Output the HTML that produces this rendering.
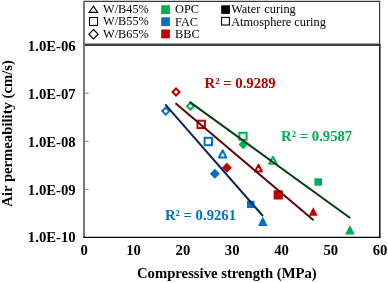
<!DOCTYPE html>
<html><head><meta charset="utf-8">
<style>
html,body{margin:0;padding:0;background:#fff;width:388px;height:283px;overflow:hidden}
svg{display:block;will-change:transform}
text{font-family:"Liberation Serif",serif}
.b{font-weight:bold;font-size:14.7px}
.l{font-size:12.3px}
</style></head><body>
<svg width="388" height="283" viewBox="0 0 388 283">
<!-- legend box -->
<polyline points="84,1.4 379.6,1.4 379.6,44" fill="none" stroke="#3a3a3a" stroke-width="1.2"/>
<!-- legend markers col1 -->
<polygon points="93.4,6.1 97.7,12.35 89.1,12.35" fill="none" stroke="#000" stroke-width="1.1"/>
<rect x="89.5" y="17.5" width="8" height="8" fill="none" stroke="#000" stroke-width="1.1"/>
<polygon points="93.5,29.5 98.1,34.15 93.5,38.8 88.9,34.15" fill="none" stroke="#000" stroke-width="1.2"/>
<text x="103.1" y="13.2" class="l">W/B45%</text>
<text x="103.1" y="25.4" class="l">W/B55%</text>
<text x="103.1" y="37.9" class="l">W/B65%</text>
<!-- col2 -->
<rect x="161.2" y="5.2" width="8.7" height="8.8" fill="#00b050"/>
<rect x="161.2" y="17.3" width="8.7" height="8.8" fill="#0070c0"/>
<rect x="161.2" y="29.5" width="8.7" height="8.8" fill="#c00000"/>
<text x="175" y="13.3" class="l">OPC</text>
<text x="175" y="25.5" class="l">FAC</text>
<text x="175" y="37.9" class="l">BBC</text>
<!-- col3 -->
<rect x="221.2" y="5.3" width="8.7" height="8.6" fill="#000"/>
<rect x="221.6" y="17.4" width="7.8" height="7.6" fill="none" stroke="#000" stroke-width="1.1"/>
<text x="231.2" y="13.4" class="l" word-spacing="1">Water curing</text>
<text x="231.2" y="25.5" class="l">Atmosphere curing</text>

<!-- plot frame -->
<line x1="84" y1="44.8" x2="380" y2="44.8" stroke="#404040" stroke-width="2.6"/>
<line x1="84" y1="0.8" x2="84" y2="237.8" stroke="#777" stroke-width="2"/>
<line x1="83.2" y1="237.35" x2="380.5" y2="237.35" stroke="#000" stroke-width="1.4"/>
<line x1="379.8" y1="44" x2="379.8" y2="237.8" stroke="#111" stroke-width="1.5"/>
<!-- y ticks -->
<g stroke="#999" stroke-width="1.1">
<line x1="85" y1="93.3" x2="88.6" y2="93.3"/>
<line x1="85" y1="141.4" x2="88.6" y2="141.4"/>
<line x1="85" y1="189.5" x2="88.6" y2="189.5"/>
</g>
<!-- y labels -->
<g class="b" text-anchor="end">
<text x="75.6" y="50.6" class="b">1.0E-06</text>
<text x="75.6" y="98.6" class="b">1.0E-07</text>
<text x="75.6" y="146.6" class="b">1.0E-08</text>
<text x="75.6" y="194.6" class="b">1.0E-09</text>
<text x="75.6" y="242.4" class="b">1.0E-10</text>
</g>
<!-- x labels -->
<g text-anchor="middle">
<text x="84.2" y="255.2" class="b">0</text>
<text x="133.6" y="255.2" class="b">10</text>
<text x="182.9" y="255.2" class="b">20</text>
<text x="232.2" y="255.2" class="b">30</text>
<text x="281.5" y="255.2" class="b">40</text>
<text x="330.8" y="255.2" class="b">50</text>
<text x="380.1" y="255.2" class="b">60</text>
</g>
<text x="137" y="278.2" class="b">Compressive strength (MPa)</text>
<text transform="translate(12.4,206.7) rotate(-90)" class="b">Air permeability (cm/s)</text>

<!-- open markers (atmosphere) -->
<g fill="none" stroke-width="2">
<polygon points="165.8,107.60 169.30,111.1 165.8,114.60 162.30,111.1" stroke="#0070c0"/>
<polygon points="176.0,88.50 179.50,92.0 176.0,95.50 172.50,92.0" stroke="#c00000"/>
<polygon points="190.5,102.70 194.00,106.2 190.5,109.70 187.00,106.2" stroke="#00b050"/>
<rect x="197.5" y="120.7" width="7.4" height="7.4" stroke="#c00000"/>
<rect x="204.6" y="137.8" width="7.4" height="7.4" stroke="#0070c0"/>
<rect x="239.4" y="132.8" width="7.2" height="6.9" stroke="#00b050"/>
<polygon points="222.6,150.4 226.3,157.5 218.9,157.5" stroke="#0070c0" stroke-linejoin="round"/>
<polygon points="258.5,164.8 261.9,171.5 255.1,171.5" stroke="#c00000" stroke-linejoin="round"/>
<polygon points="272.9,156.7 276.6,163.7 269.2,163.7" stroke="#00b050" stroke-linejoin="round"/>
</g>
<!-- filled markers (water) -->
<polygon points="214.9,168.8 219.9,173.8 214.9,178.8 209.9,173.8" fill="#0070c0"/>
<polygon points="226.9,162.7 231.9,167.7 226.9,172.7 221.9,167.7" fill="#c00000"/>
<polygon points="243.3,139.8 248,144.5 243.3,149.2 238.6,144.5" fill="#00b050"/>
<rect x="273.6" y="190.3" width="9.2" height="9.2" fill="#c00000"/>
<rect x="247" y="200.8" width="7.5" height="7.3" fill="#0070c0"/>
<rect x="314.4" y="178.3" width="7.6" height="7.4" fill="#00b050"/>
<polygon points="262.8,216.5 267.6,226 258,226" fill="#0070c0"/>
<polygon points="313.3,207.2 317.6,215.7 308.7,215.7" fill="#c00000"/>
<polygon points="349.9,225.1 354.7,234.5 345.1,234.5" fill="#00b050"/>

<!-- trend lines -->
<line x1="165.2" y1="104.3" x2="262.9" y2="216" stroke="#052860" stroke-width="2"/>
<line x1="175.5" y1="103.3" x2="313.6" y2="220.2" stroke="#5a0505" stroke-width="2"/>
<line x1="189.6" y1="101.9" x2="350.2" y2="218" stroke="#053d15" stroke-width="2"/>

<!-- R2 labels -->
<text x="204.6" y="87.9" class="b" fill="#c00000">R² = 0.9289</text>
<text x="281.1" y="141.0" class="b" fill="#00b050">R² = 0.9587</text>
<text x="164.9" y="220.4" class="b" fill="#0070c0">R² = 0.9261</text>
</svg>
</body></html>
